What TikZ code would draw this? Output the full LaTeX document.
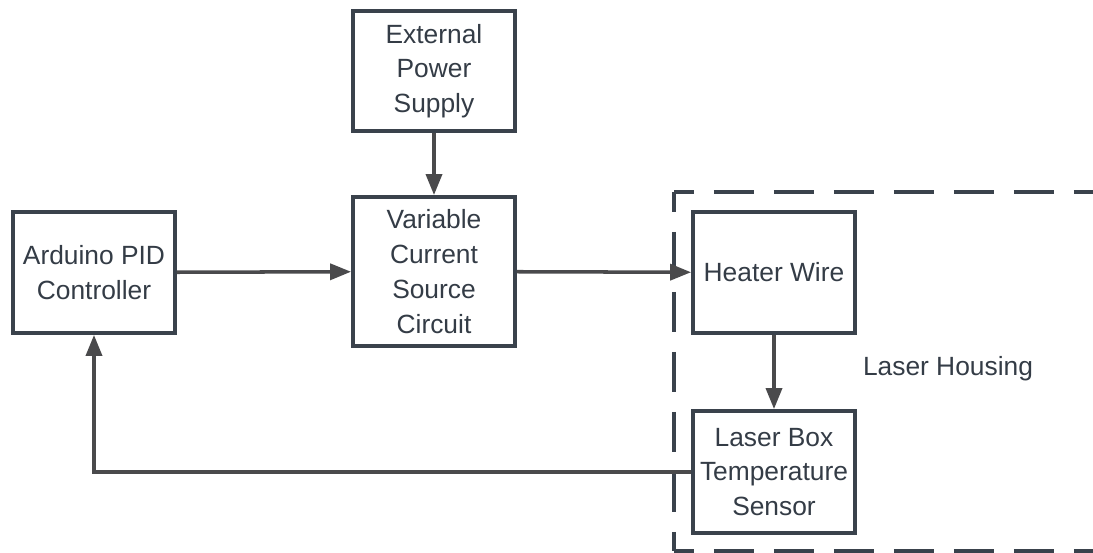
\documentclass[tikz,border=0pt]{standalone}
\usepackage{fontspec}
\setmainfont{Liberation Sans}
\usetikzlibrary{arrows.meta}
\definecolor{boxln}{RGB}{58,66,76}
\definecolor{arrln}{RGB}{74,74,76}
\definecolor{txtcol}{RGB}{52,60,70}
\tikzset{
  blockbox/.style={draw=boxln, line width=2.2pt, fill=white, text=txtcol,
    minimum width=3.24cm, align=center, inner sep=2pt,
    font=\fontsize{15pt}{19.8pt}\selectfont},
  flowarr/.style={-{Triangle[length=0.42cm,width=0.32cm]}, line width=2pt, arrln},
  housing/.style={draw=boxln, line width=2.2pt, dash pattern=on 0.8cm off 0.4cm, dash phase=0.4cm},
}

\begin{document}
\begin{tikzpicture}[x=0.02cm, y=-0.02cm]
  \useasboundingbox (0,0) rectangle (1093,553);
  \begin{scope}
    \clip (0,0) rectangle (1093,553);
    % laser housing outline, cut off at the right edge
    \draw[housing] (674,192) -- (1100,192);
    \draw[housing] (674,192) -- (674,551);
    \draw[housing] (674,551) -- (1100,551);
  \end{scope}
  \node[text=txtcol, font=\fontsize{15pt}{19.8pt}\selectfont] (hsglbl) at (948,369) {Laser Housing};
  % blocks
  \node[blockbox, minimum height=2.42cm] (ard) at (94,272.5) {Arduino PID\\Controller};
  \node[blockbox, minimum height=2.40cm] (eps) at (434,71) {External\\Power\\Supply};
  \node[blockbox, minimum height=2.98cm] (vcs) at (434,271.5) {Variable\\Current\\Source\\Circuit};
  \node[blockbox, minimum height=2.42cm] (heat) at (774,272.5) {Heater Wire};
  \node[blockbox, minimum height=2.44cm] (sens) at (774,472) {Laser Box\\Temperature\\Sensor};
  % signal flow
  \draw[flowarr] (eps) -- (vcs);
  \draw[flowarr] (ard) -- (vcs);
  \draw[flowarr] (vcs) -- (heat);
  \draw[flowarr] (heat) -- (sens);
  \draw[flowarr] (sens.west) -| (ard.south);
\end{tikzpicture}
\end{document}
